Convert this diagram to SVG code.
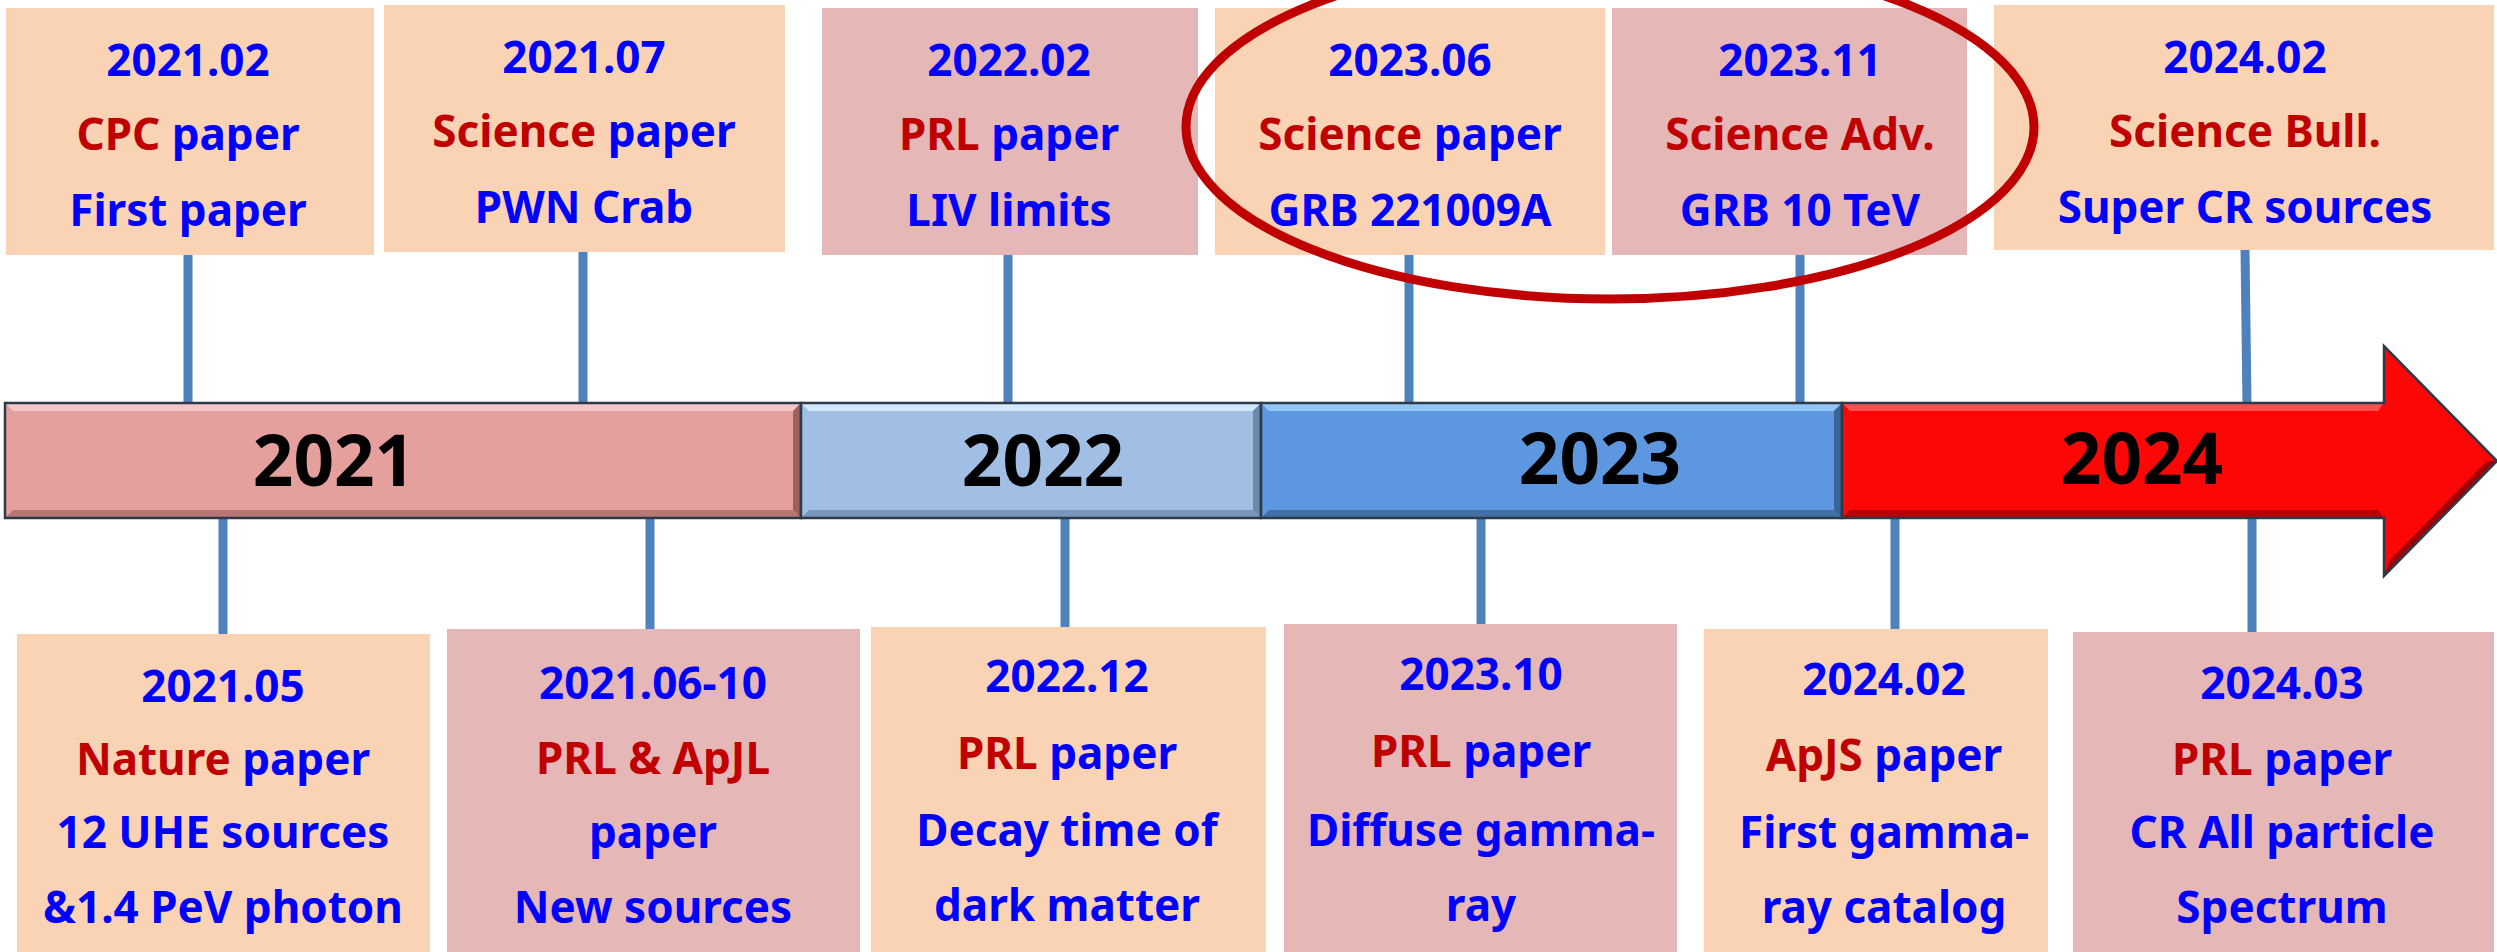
<svg xmlns="http://www.w3.org/2000/svg" width="2497" height="952" viewBox="0 0 2497 952">
<style>
.peach{fill:#FAD3B5}
.pink{fill:#E5B7B7}
.t{font-family:"Noto Sans","Open Sans","Liberation Sans",sans-serif;font-weight:bold;font-size:44px;text-anchor:middle;fill:#0000FF}
.r{fill:#C00000}
.yr{font-family:"Noto Sans","Open Sans","Liberation Sans",sans-serif;font-weight:bold;font-size:71px;text-anchor:middle;fill:#000000}
.ln{stroke:#4F81BD;stroke-width:9;fill:none}
.edge{stroke:#2E3A4A;stroke-width:2.5;fill:none}
</style>
<rect width="2497" height="952" fill="#FFFFFF"/>
<g id="connectors">
<line class="ln" x1="188" y1="250" x2="188" y2="405"/>
<line class="ln" x1="583" y1="250" x2="583" y2="405"/>
<line class="ln" x1="1008" y1="250" x2="1008" y2="405"/>
<line class="ln" x1="1409" y1="250" x2="1409" y2="405"/>
<line class="ln" x1="1800" y1="250" x2="1800" y2="405"/>
<line class="ln" x1="2245" y1="248" x2="2247" y2="405"/>
<line class="ln" x1="223" y1="516" x2="223" y2="636"/>
<line class="ln" x1="650" y1="516" x2="650" y2="631"/>
<line class="ln" x1="1065" y1="516" x2="1065" y2="629"/>
<line class="ln" x1="1481" y1="516" x2="1481" y2="626"/>
<line class="ln" x1="1895" y1="516" x2="1895" y2="631"/>
<line class="ln" x1="2252" y1="516" x2="2252" y2="634"/>
</g>
<g id="bar-2021">
<rect x="5" y="403" width="796" height="115" fill="#E59F9D"/>
<polygon points="5,403 801,403 793,411 13,411" fill="#F4C6C5"/>
<polygon points="5,518 801,518 793,510 13,510" fill="#B87674"/>
<polygon points="801,403 801,518 793,510 793,411" fill="#9C605F"/>
<rect class="edge" x="5" y="403" width="796" height="115"/>
<text class="yr" x="334" y="486">2021</text>
</g>
<g id="bar-2022">
<rect x="801" y="403" width="460" height="115" fill="#A1BFE5"/>
<polygon points="801,403 1261,403 1253,411 809,411" fill="#D2E8FB"/>
<polygon points="801,518 1261,518 1253,510 809,510" fill="#7A96B9"/>
<polygon points="1261,403 1261,518 1253,510 1253,411" fill="#6E88A8"/>
<rect class="edge" x="801" y="403" width="460" height="115"/>
<text class="yr" x="1043" y="486">2022</text>
</g>
<g id="bar-2023">
<rect x="1261" y="403" width="581" height="115" fill="#5C97DF"/>
<polygon points="1261,403 1842,403 1834,411 1269,411" fill="#92C6F6"/>
<polygon points="1261,518 1842,518 1834,510 1269,510" fill="#416FA6"/>
<polygon points="1842,403 1842,518 1834,510 1834,411" fill="#3B6496"/>
<rect class="edge" x="1261" y="403" width="581" height="115"/>
<text class="yr" x="1600" y="484">2023</text>
</g>
<g id="bar-2024">
<polygon points="1842,403 2384,403 2384,346 2497,461 2384,576 2384,518 1842,518" fill="#FF0606"/>
<polygon points="1842,403 2384,403 2378,411 1850,411" fill="#FF5050"/>
<polygon points="1842,518 2384,518 2378,510 1850,510" fill="#B40000"/>
<polygon points="2384,576 2497,461 2487,461 2390,560" fill="#A00000"/>
<polygon class="edge" points="1842,403 2384,403 2384,346 2497,461 2384,576 2384,518 1842,518"/>
<text class="yr" x="2142" y="484">2024</text>
</g>
<g id="n-2021-02">
<rect class="peach" x="6" y="8" width="368" height="247"/>
<text class="t" x="188" y="76">2021.02</text>
<text class="t" x="188" y="150"><tspan class="r">CPC</tspan> paper</text>
<text class="t" x="188" y="226">First paper</text>
</g>
<g id="n-2021-07">
<rect class="peach" x="384" y="5" width="401" height="247"/>
<text class="t" x="584" y="73">2021.07</text>
<text class="t" x="584" y="147"><tspan class="r">Science</tspan> paper</text>
<text class="t" x="584" y="223">PWN Crab</text>
</g>
<g id="n-2022-02">
<rect class="pink" x="822" y="8" width="376" height="247"/>
<text class="t" x="1009" y="76">2022.02</text>
<text class="t" x="1009" y="150"><tspan class="r">PRL</tspan> paper</text>
<text class="t" x="1009" y="226">LIV limits</text>
</g>
<g id="n-2023-06">
<rect class="peach" x="1215" y="8" width="390" height="247"/>
<text class="t" x="1410" y="76">2023.06</text>
<text class="t" x="1410" y="150"><tspan class="r">Science</tspan> paper</text>
<text class="t" x="1410" y="226">GRB 221009A</text>
</g>
<g id="n-2023-11">
<rect class="pink" x="1612" y="8" width="355" height="247"/>
<text class="t" x="1800" y="76">2023.11</text>
<text class="t r" x="1800" y="150">Science Adv.</text>
<text class="t" x="1800" y="226">GRB 10 TeV</text>
</g>
<g id="n-2024-02-top">
<rect class="peach" x="1994" y="5" width="500" height="245"/>
<text class="t" x="2245" y="73">2024.02</text>
<text class="t r" x="2245" y="147">Science Bull.</text>
<text class="t" x="2245" y="223">Super CR sources</text>
</g>
<g id="n-2021-05">
<rect class="peach" x="17" y="634" width="413" height="318"/>
<text class="t" x="223" y="702">2021.05</text>
<text class="t" x="223" y="775"><tspan class="r">Nature</tspan> paper</text>
<text class="t" x="223" y="848">12 UHE sources</text>
<text class="t" x="223" y="923">&amp;1.4 PeV photon</text>
</g>
<g id="n-2021-06-10">
<rect class="pink" x="447" y="629" width="413" height="323"/>
<text class="t" x="653" y="699">2021.06-10</text>
<text class="t r" x="653" y="774">PRL &amp; ApJL</text>
<text class="t" x="653" y="848">paper</text>
<text class="t" x="653" y="923">New sources</text>
</g>
<g id="n-2022-12">
<rect class="peach" x="871" y="627" width="395" height="325"/>
<text class="t" x="1067" y="692">2022.12</text>
<text class="t" x="1067" y="769"><tspan class="r">PRL</tspan> paper</text>
<text class="t" x="1067" y="846">Decay time of</text>
<text class="t" x="1067" y="921">dark matter</text>
</g>
<g id="n-2023-10">
<rect class="pink" x="1284" y="624" width="393" height="328"/>
<text class="t" x="1481" y="690">2023.10</text>
<text class="t" x="1481" y="767"><tspan class="r">PRL</tspan> paper</text>
<text class="t" x="1481" y="846">Diffuse gamma-</text>
<text class="t" x="1481" y="921">ray</text>
</g>
<g id="n-2024-02-bottom">
<rect class="peach" x="1704" y="629" width="344" height="323"/>
<text class="t" x="1884" y="695">2024.02</text>
<text class="t" x="1884" y="771"><tspan class="r">ApJS</tspan> paper</text>
<text class="t" x="1884" y="848">First gamma-</text>
<text class="t" x="1884" y="923">ray catalog</text>
</g>
<g id="n-2024-03">
<rect class="pink" x="2073" y="632" width="421" height="320"/>
<text class="t" x="2282" y="699">2024.03</text>
<text class="t" x="2282" y="775"><tspan class="r">PRL</tspan> paper</text>
<text class="t" x="2282" y="848">CR All particle</text>
<text class="t" x="2282" y="923">Spectrum</text>
</g>
<g id="highlight">
<ellipse cx="1610" cy="127" rx="424" ry="172" fill="none" stroke="#C00000" stroke-width="9"/>
</g>
</svg>
